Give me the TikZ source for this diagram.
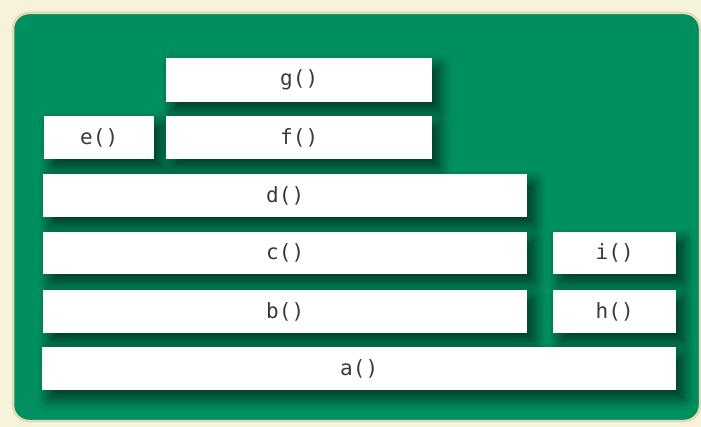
\documentclass[tikz,border=0pt]{standalone}
\usepackage{fontspec}
\setmonofont{DejaVu Sans Mono}
\usetikzlibrary{shadows.blur}
\definecolor{paper}{HTML}{F7F3DA}
\definecolor{rim}{HTML}{E2DABA}
\definecolor{stack}{HTML}{00905F}
\definecolor{ink}{HTML}{3A3A3A}
\tikzset{
frame/.style={
  rectangle,
  fill=white,
  draw=none,
  inner sep=0pt,
  anchor=north west,
  text=ink,
  font=\ttfamily\fontsize{21}{21}\selectfont,
  blur shadow={shadow xshift=7pt,shadow yshift=-8pt,shadow blur radius=12pt,shadow opacity=65,shadow blur steps=18}
}
}
\newcommand{\call}[6]{%
  \node[frame,minimum width=#4pt,minimum height=#5pt] (#1) at (#2,#3) {#6};}

\begin{document}
\begin{tikzpicture}[x=1pt,y=-1pt]
\useasboundingbox (0,0) rectangle (701,427);
\fill[paper] (0,0) rectangle (701,427);
\draw[rim,line width=2.5pt,fill=stack,rounded corners=16pt] (13,13) rectangle (700,421);
% the frames, top of the stack first
\call{g}{166}{58}{266}{44}{g()}
\call{e}{44}{116}{110}{43}{e()}
\call{f}{166}{116}{266}{43}{f()}
\call{d}{43}{174}{484}{43}{d()}
\call{c}{43}{232}{484}{42}{c()}
\call{i}{553}{232}{123}{42}{i()}
\call{b}{43}{290}{484}{43}{b()}
\call{h}{553}{290}{123}{43}{h()}
\call{a}{42}{347}{634}{43}{a()}
\end{tikzpicture}
\end{document}
